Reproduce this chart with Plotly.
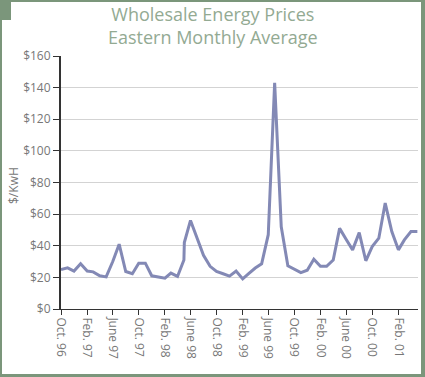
import plotly.graph_objects as go

# ---- data ----
dates = [
    "1996-10-01", "1996-11-01", "1996-12-01", "1997-01-01", "1997-02-01", "1997-03-01",
    "1997-04-01", "1997-05-01", "1997-06-01", "1997-07-01", "1997-08-01", "1997-09-01",
    "1997-10-01", "1997-11-01", "1997-12-01", "1998-01-01", "1998-02-01", "1998-03-01",
    "1998-04-01", "1998-05-01", "1998-05-03", "1998-06-01", "1998-07-01", "1998-08-01",
    "1998-09-01", "1998-10-01", "1998-11-01", "1998-12-01", "1999-01-01", "1999-02-01",
    "1999-03-01", "1999-04-01", "1999-05-01", "1999-06-01", "1999-07-01", "1999-08-01",
    "1999-09-01", "1999-10-01", "1999-11-01", "1999-12-01", "2000-01-01", "2000-02-01",
    "2000-03-01", "2000-04-01", "2000-05-01", "2000-06-01", "2000-07-01", "2000-08-01",
    "2000-09-01", "2000-10-01", "2000-11-01", "2000-12-01", "2001-01-01", "2001-02-01",
    "2001-03-01", "2001-04-01", "2001-05-01",
]
prices = [
    25, 26, 24, 28.6, 24, 23.5,
    21, 20.3, 30, 41, 23.7, 22.3,
    29, 29, 21, 20.4, 19.5, 22.7,
    20.6, 31, 42, 56, 45, 34,
    27, 23.7, 22.3, 20.8, 24, 19,
    22.3, 25.9, 28.6, 47, 143, 52,
    27.3, 25, 23, 24.5, 31.5, 27,
    27, 31, 51, 44, 37.4, 48.3,
    30.5, 39.5, 44.8, 67, 49, 37.4,
    43.7, 49, 49,
]
tick_dates = [
    "1996-10-01", "1997-02-01", "1997-06-01", "1997-10-01", "1998-02-01", "1998-06-01",
    "1998-10-01", "1999-02-01", "1999-06-01", "1999-10-01", "2000-02-01", "2000-06-01",
    "2000-10-01", "2001-02-01",
]
tick_labels = [
    "Oct. 96", "Feb. 97", "June 97", "Oct. 97", "Feb. 98", "June 98",
    "Oct. 98", "Feb. 99", "June 99", "Oct. 99", "Feb. 00", "June 00",
    "Oct. 00", "Feb. 01",
]
y_ticks = [0, 20, 40, 60, 80, 100, 120, 140, 160]
y_tick_labels = ["$0", "$20", "$40", "$60", "$80", "$100", "$120", "$140", "$160"]

# ---- layout geometry ----
W, H = 425, 377
L, R, T, B = 61, 7, 56, 68
PW, PH = W - L - R, H - T - B

def px(x):
    return (x - L) / PW

def py(y):
    return (H - B - y) / PH

GREEN = "#7b967b"
TITLE = "#93aa93"
GRAY = "#777777"

fig = go.Figure()
fig.add_trace(go.Scatter(
    x=dates, y=prices, mode="lines",
    line=dict(color="#8389b5", width=3),
    hoverinfo="skip",
))

shapes = []
for (x0, y0, x1, y1) in [(0, 0, W, 2), (0, 0, 2, H), (W - 4, 0, W, H), (0, H - 3, W, H), (0, 0, 11, 20)]:
    shapes.append(dict(type="rect", xref="paper", yref="paper",
                       x0=px(x0), x1=px(x1), y0=py(y1), y1=py(y0),
                       fillcolor=GREEN, line=dict(width=0), layer="above"))

annotations = [
    dict(text="Wholesale Energy Prices<br>Eastern Monthly Average", xref="paper", yref="paper",
         x=px(213), y=py(25), xanchor="center", yanchor="middle", showarrow=False,
         font=dict(family="Open Sans", size=18, color=TITLE)),
    dict(text="$/KwH", xref="paper", yref="paper",
         x=px(14), y=py(186), xanchor="center", yanchor="middle", showarrow=False,
         textangle=-90, font=dict(family="Open Sans", size=12, color=GRAY)),
]

fig.update_layout(
    width=W, height=H,
    margin=dict(l=L, r=R, t=T, b=B, pad=0),
    paper_bgcolor="white", plot_bgcolor="white",
    showlegend=False,
    shapes=shapes,
    annotations=annotations,
    font=dict(family="Open Sans", size=12, color=GRAY),
    xaxis=dict(
        type="date", range=["1996-10-01", "2001-05-04"],
        tickmode="array", tickvals=tick_dates, ticktext=tick_labels,
        tickangle=90, ticks="outside", ticklen=5, tickcolor="#333",
        showline=True, linecolor="#333", linewidth=1,
        showgrid=False, zeroline=False, automargin=False,
        tickfont=dict(family="Open Sans", size=12, color=GRAY),
    ),
    yaxis=dict(
        range=[0, 160], tickmode="array", tickvals=y_ticks, ticktext=y_tick_labels,
        ticks="outside", ticklen=6, tickcolor="#333",
        showline=True, linecolor="#333", linewidth=2,
        showgrid=True, gridcolor="#d3d3d3", gridwidth=1, zeroline=False, automargin=False,
        tickfont=dict(family="Open Sans", size=12, color=GRAY),
    ),
)

fig.write_html(
    "out.html",
    config={"displayModeBar": False, "staticPlot": True},
    post_script="document.body.style.margin='0';document.body.style.padding='0';document.body.style.overflow='hidden';",
)
